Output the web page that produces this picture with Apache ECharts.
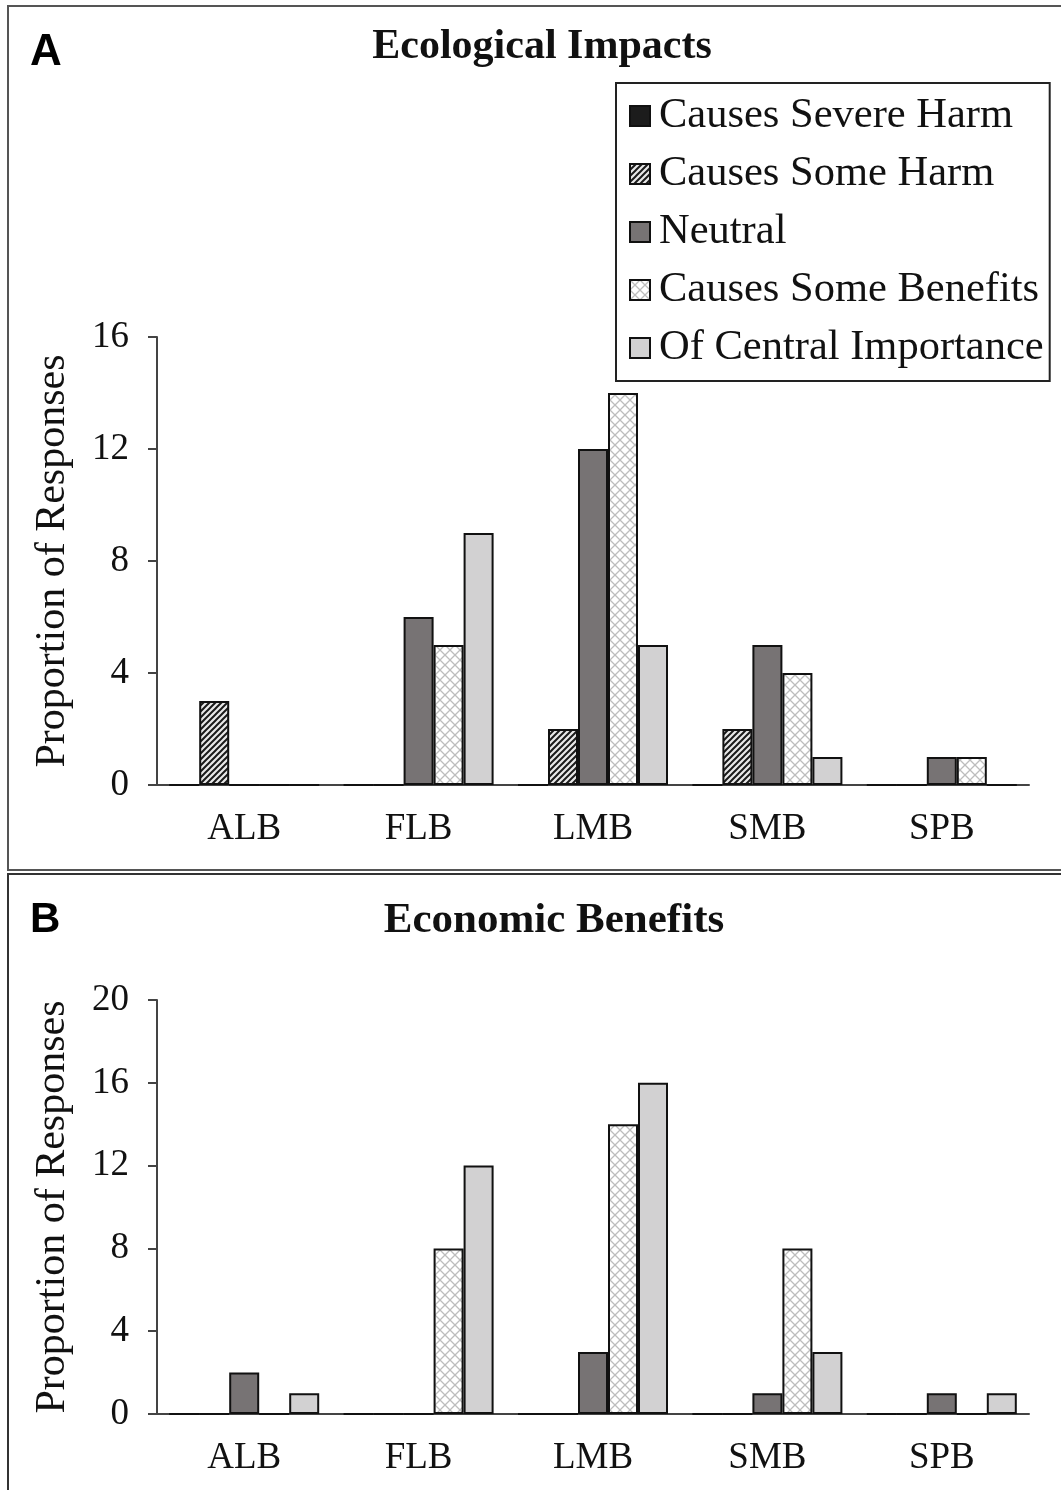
<!DOCTYPE html>
<html>
<head>
<meta charset="utf-8">
<script src="https://cdn.jsdelivr.net/npm/echarts@6/dist/echarts.min.js"></script>
<style>
html,body{margin:0;padding:0;background:#fff;}
#chart{width:1061px;height:1490px;}
</style>
</head>
<body>
<div id="chart"></div>
<script>
// ---- data ----
var categories = ['ALB', 'FLB', 'LMB', 'SMB', 'SPB'];
var seriesNames = ['Causes Severe Harm', 'Causes Some Harm', 'Neutral', 'Causes Some Benefits', 'Of Central Importance'];

// Panel A: Ecological Impacts
var ecoSevereHarm   = [0, 0, 0, 0, 0];
var ecoSomeHarm     = [3, 0, 2, 2, 0];
var ecoNeutral      = [0, 6, 12, 5, 1];
var ecoSomeBenefits = [0, 5, 14, 4, 1];
var ecoCentral      = [0, 9, 5, 1, 0];

// Panel B: Economic Benefits
var econSevereHarm   = [0, 0, 0, 0, 0];
var econSomeHarm     = [0, 0, 0, 0, 0];
var econNeutral      = [2, 0, 3, 1, 1];
var econSomeBenefits = [0, 8, 14, 8, 0];
var econCentral      = [1, 12, 16, 3, 1];

var yTicksA = [0, 4, 8, 12, 16];
var yTicksB = [0, 4, 8, 12, 16, 20];

// ---- patterns ----
function hatchPattern() {
  var c = document.createElement('canvas');
  c.width = 6; c.height = 6;
  var g = c.getContext('2d');
  g.fillStyle = '#e8e8e8'; g.fillRect(0, 0, 6, 6);
  g.strokeStyle = '#1a1a1a'; g.lineWidth = 2;
  g.beginPath();
  g.moveTo(-1, 7); g.lineTo(7, -1);
  g.moveTo(-4, 4); g.lineTo(4, -4);
  g.moveTo(2, 10); g.lineTo(10, 2);
  g.stroke();
  return { image: c, repeat: 'repeat' };
}
function crossPattern() {
  var c = document.createElement('canvas');
  c.width = 10; c.height = 10;
  var g = c.getContext('2d');
  g.fillStyle = '#ffffff'; g.fillRect(0, 0, 10, 10);
  g.strokeStyle = '#bdbdbd'; g.lineWidth = 1.3;
  g.beginPath();
  g.moveTo(0, 0); g.lineTo(10, 10);
  g.moveTo(10, 0); g.lineTo(0, 10);
  g.stroke();
  return { image: c, repeat: 'repeat' };
}

var fills = ['#1c1c1c', hatchPattern(), '#777374', crossPattern(), '#d2d1d2'];
var serif = '"Liberation Serif", "Times New Roman", serif';

var dataA = [ecoSevereHarm, ecoSomeHarm, ecoNeutral, ecoSomeBenefits, ecoCentral];
var dataB = [econSevereHarm, econSomeHarm, econNeutral, econSomeBenefits, econCentral];

var series = [];
function addSeries(arrs, idx) {
  arrs.forEach(function (d, i) {
    series.push({
      name: seriesNames[i],
      type: 'bar',
      xAxisIndex: idx,
      yAxisIndex: idx,
      data: d,
      barWidth: 30,
      barGap: '0%',
      itemStyle: { color: fills[i], borderColor: '#111', borderWidth: 2 },
      emphasis: { disabled: true }
    });
  });
}
addSeries(dataA, 0);
addSeries(dataB, 1);

function xAxis(gi) {
  return {
    type: 'category', gridIndex: gi, data: categories,
    axisLine: { lineStyle: { color: '#444', width: 2 } },
    axisTick: { show: false },
    axisLabel: { color: '#111', fontFamily: serif, fontSize: 37, margin: 26 }
  };
}
function yAxis(gi, ticks) {
  return {
    type: 'value', gridIndex: gi, min: ticks[0], max: ticks[ticks.length - 1], interval: ticks[1] - ticks[0],
    name: 'Proportion of Responses', nameLocation: 'middle', nameGap: 83, nameRotate: 90,
    nameTextStyle: { color: '#111', fontFamily: serif, fontSize: 42 },
    axisLine: { show: true, lineStyle: { color: '#444', width: 2 } },
    axisTick: { show: true, length: 9, lineStyle: { color: '#444', width: 2 } },
    axisLabel: { color: '#111', fontFamily: serif, fontSize: 37, margin: 28 },
    splitLine: { show: false }
  };
}

var chart = echarts.init(document.getElementById('chart'));
chart.setOption({
  backgroundColor: '#fff',
  animation: false,
  grid: [
    { left: 157, right: 32, top: 337, height: 448 },
    { left: 157, right: 32, top: 1000, height: 414 }
  ],
  xAxis: [xAxis(0), xAxis(1)],
  yAxis: [yAxis(0, yTicksA), yAxis(1, yTicksB)],
  legend: {
    orient: 'vertical', left: 616, top: 83,
    data: seriesNames,
    icon: 'rect', itemWidth: 20, itemHeight: 20, itemGap: 8,
    padding: [8, 6, 8, 13],
    borderColor: '#222', borderWidth: 2,
    textStyle: { color: '#111', fontFamily: serif, fontSize: 42.5, lineHeight: 50, padding: [0, 0, 0, 4] },
    selectedMode: false
  },
  graphic: [
    { type: 'rect', shape: { x: 8, y: 6, width: 1100, height: 864 }, style: { fill: 'none', stroke: '#555', lineWidth: 2 }, z: -1 },
    { type: 'rect', shape: { x: 8, y: 874, width: 1100, height: 700 }, style: { fill: 'none', stroke: '#333', lineWidth: 2 }, z: -1 },
    { type: 'text', x: 30, y: 53, style: { text: 'A', font: 'bold 44px "Liberation Sans", Arial, sans-serif', fill: '#000', textVerticalAlign: 'middle' } },
    { type: 'text', x: 30, y: 920, style: { text: 'B', font: 'bold 42px "Liberation Sans", Arial, sans-serif', fill: '#000', textVerticalAlign: 'middle' } },
    { type: 'text', x: 542, y: 47, style: { text: 'Ecological Impacts', font: 'bold 42px "Liberation Serif", "Times New Roman", serif', fill: '#111', textAlign: 'center', textVerticalAlign: 'middle' } },
    { type: 'text', x: 554, y: 921, style: { text: 'Economic Benefits', font: 'bold 43px "Liberation Serif", "Times New Roman", serif', fill: '#111', textAlign: 'center', textVerticalAlign: 'middle' } }
  ],
  series: series
});
</script>
</body>
</html>
